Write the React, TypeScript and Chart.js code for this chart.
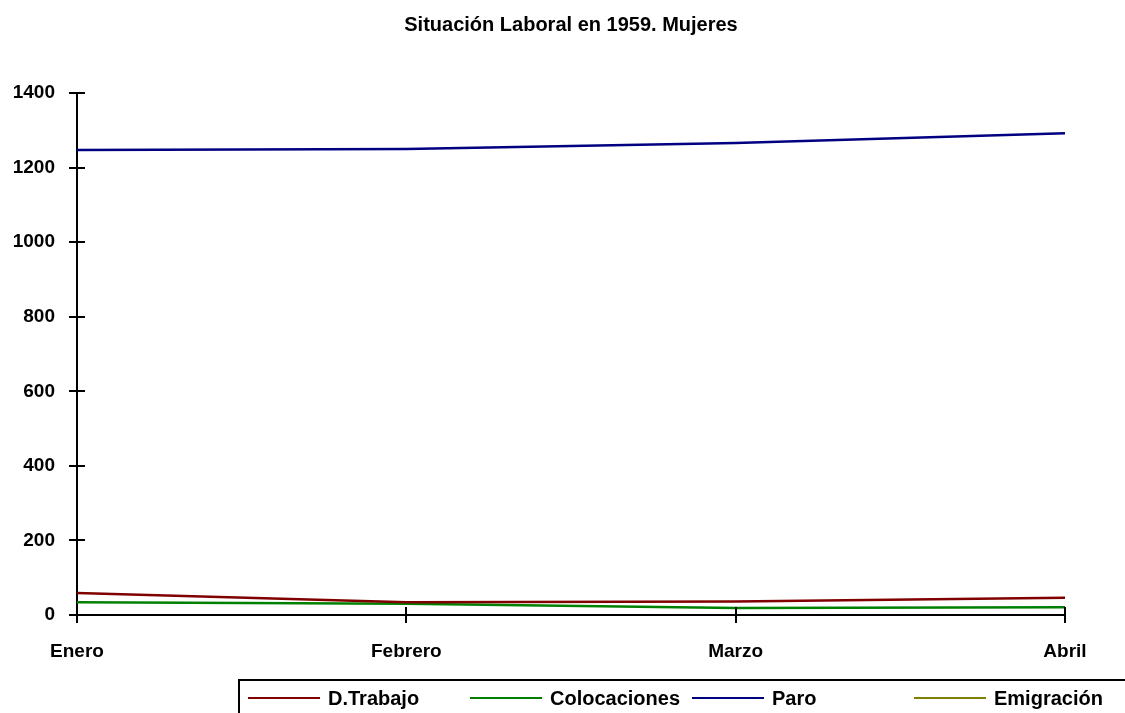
import React, { useEffect, useRef } from "react";
import { Chart, registerables } from "chart.js";

Chart.register(...registerables);

const categories = ["Enero", "Febrero", "Marzo", "Abril"];
const dTrabajo = [59, 34, 36, 46];
const colocaciones = [34, 30, 19, 21];
const paro = [1247, 1250, 1266, 1292];
const emigracion: (number | null)[] = [null, null, null, null];
const yTicks = [0, 200, 400, 600, 800, 1000, 1200, 1400];
const title = "Situación Laboral en 1959. Mujeres";

const seriesNames = ["D.Trabajo", "Colocaciones", "Paro", "Emigración"];
const seriesColors = ["#800000", "#008000", "#000080", "#808000"];

const FONT = "Arial, 'Liberation Sans', sans-serif";

const crossTicks = {
  id: "crossTicks",
  afterDraw(chart: any) {
    const ctx = chart.ctx;
    const x = chart.scales.x;
    const y = chart.scales.y;
    ctx.save();
    ctx.strokeStyle = "#000";
    ctx.lineWidth = 2;
    yTicks.forEach((v) => {
      const py = Math.round(y.getPixelForValue(v));
      ctx.beginPath();
      ctx.moveTo(x.left - 8, py);
      ctx.lineTo(x.left + 8, py);
      ctx.stroke();
    });
    categories.forEach((_, i) => {
      const px = Math.round(x.getPixelForValue(i));
      ctx.beginPath();
      ctx.moveTo(px, y.bottom - 8);
      ctx.lineTo(px, y.bottom + 8);
      ctx.stroke();
    });
    // title centered over plot area
    const ca = chart.chartArea;
    ctx.fillStyle = "#000";
    ctx.font = `bold 20px ${FONT}`;
    ctx.textAlign = "center";
    ctx.textBaseline = "middle";
    ctx.fillText(title, (ca.left + ca.right) / 2, 25);
    ctx.restore();
  },
};

export default function App() {
  const ref = useRef<HTMLCanvasElement>(null);
  useEffect(() => {
    const data = [dTrabajo, colocaciones, paro, emigracion];
    const chart = new Chart(ref.current!, {
      type: "line",
      data: {
        labels: categories,
        datasets: data.map((d, i) => ({
          label: seriesNames[i],
          data: d,
          borderColor: seriesColors[i],
          backgroundColor: seriesColors[i],
          borderWidth: 2.5,
          pointRadius: 0,
          tension: 0,
          fill: false,
        })),
      },
      options: {
        responsive: false,
        animation: false,
        layout: { padding: { left: 0, right: 60, top: 93, bottom: 0 } },
        plugins: {
          legend: { display: false },
          tooltip: { enabled: false },
          title: { display: false },
        },
        scales: {
          x: {
            type: "category",
            offset: false,
            grid: { display: true, drawOnChartArea: false, drawTicks: false },
            border: { display: true, color: "#000", width: 2 },
            ticks: {
              color: "#000",
              padding: 25,
              maxRotation: 0,
              autoSkip: false,
              font: { family: FONT, size: 19, weight: "bold" },
            },
            afterFit(scale: any) {
              scale.height = 98;
            },
          },
          y: {
            min: 0,
            max: 1400,
            afterBuildTicks(scale: any) {
              scale.ticks = yTicks.map((v) => ({ value: v }));
            },
            grid: { display: true, drawOnChartArea: false, drawTicks: false },
            border: { display: true, color: "#000", width: 2 },
            ticks: {
              color: "#000",
              padding: 22,
              font: { family: FONT, size: 19, weight: "bold" },
              callback: (v: any) => String(v),
            },
            afterFit(scale: any) {
              scale.width = 77;
            },
          },
        },
      },
      plugins: [crossTicks],
    });
    return () => chart.destroy();
  }, []);

  return (
    <div style={{ position: "fixed", left: 0, top: 0, width: 1125, height: 713, background: "#fff", overflow: "hidden" }}>
      <canvas ref={ref} width={1125} height={713} style={{ display: "block" }} />
      <div
        style={{
          position: "absolute",
          left: 238,
          top: 679,
          width: 1000,
          height: 60,
          border: "2px solid #000",
          boxSizing: "border-box",
        }}
      />
      {seriesNames.map((name, i) => (
        <div
          key={name}
          style={{
            position: "absolute",
            left: 248 + i * 222,
            top: 688,
            height: 20,
            display: "flex",
            alignItems: "center",
            fontFamily: FONT,
            fontWeight: "bold",
            fontSize: 20,
            color: "#000",
            whiteSpace: "nowrap",
          }}
        >
          <span style={{ display: "inline-block", width: 72, height: 2.5, background: seriesColors[i], marginRight: 8 }} />
          <span>{name}</span>
        </div>
      ))}
    </div>
  );
}
